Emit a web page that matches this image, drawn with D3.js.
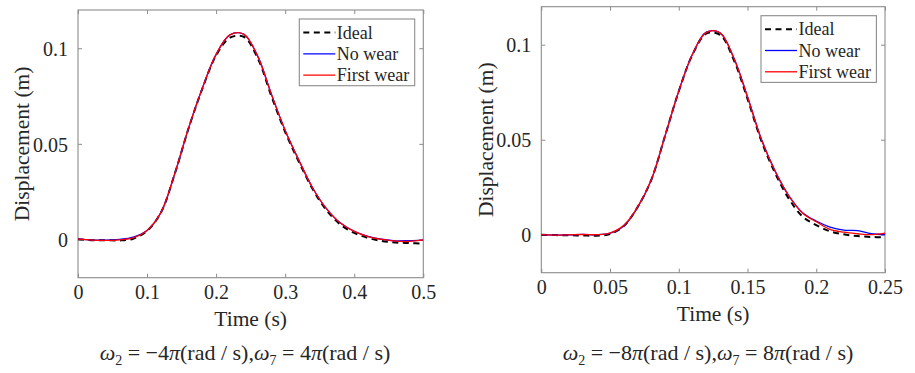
<!DOCTYPE html>
<html>
<head>
<meta charset="utf-8">
<script src="https://cdn.jsdelivr.net/npm/d3@7"></script>
<style>
  html, body { margin: 0; padding: 0; background: #fff; }
  svg { display: block; }
  text { font-family: "Liberation Serif", "Times New Roman", serif; fill: #262626; }
</style>
</head>
<body>
<svg id="fig" width="915" height="373"></svg>
<script>
// ---- Data: cam follower displacement (m) versus time (s) ----
const seriesNames = ["Ideal", "No wear", "First wear"];

// Case 1: omega2 = -4*pi rad/s, sampled every 0.02 s
const timeA = [0, 0.02, 0.04, 0.06, 0.08, 0.10, 0.12, 0.14, 0.16, 0.18, 0.20, 0.22, 0.24,
               0.26, 0.28, 0.30, 0.32, 0.34, 0.36, 0.38, 0.40, 0.42, 0.44, 0.46, 0.48, 0.50];
const idealA = [0.0001, -0.0004, -0.0004, -0.0005, 0.0004, 0.0045, 0.0140, 0.0342, 0.0580, 0.0788, 0.0962, 0.1055, 0.1060,
                0.0950, 0.0750, 0.0562, 0.0405, 0.0262, 0.0152, 0.0078, 0.0034, 0.0008, -0.0008, -0.0016, -0.0019, -0.0022];
const noWearA = [0.0002, -0.0003, -0.0004, 0.0000, 0.0012, 0.0047, 0.0140, 0.0342, 0.0581, 0.0791, 0.0968, 0.1070, 0.1073,
                 0.0960, 0.0760, 0.0570, 0.0413, 0.0268, 0.0160, 0.0086, 0.0043, 0.0016, 0.0001, -0.0007, -0.0006, -0.0003];
const firstWearA = [0.0002, -0.0003, -0.0005, -0.0002, 0.0008, 0.0047, 0.0140, 0.0343, 0.0582, 0.0790, 0.0968, 0.1070, 0.1074,
                    0.0960, 0.0760, 0.0570, 0.0413, 0.0268, 0.0160, 0.0086, 0.0042, 0.0015, 0.0000, -0.0009, -0.0010, -0.0002];

// Case 2: omega2 = -8*pi rad/s, sampled every 0.01 s
const timeB = [0, 0.01, 0.02, 0.03, 0.04, 0.05, 0.06, 0.07, 0.08, 0.09, 0.10, 0.11, 0.12,
               0.13, 0.14, 0.15, 0.16, 0.17, 0.18, 0.19, 0.20, 0.21, 0.22, 0.23, 0.24, 0.25];
const idealB = [0.0000, -0.0002, -0.0003, -0.0004, -0.0005, 0.0004, 0.0046, 0.0145, 0.0289, 0.0520, 0.0755, 0.0948, 0.1058,
                0.1052, 0.0920, 0.0715, 0.0495, 0.0325, 0.0190, 0.0096, 0.0050, 0.0018, 0.0002, -0.0007, -0.0012, -0.0014];
const noWearB = [0.0000, -0.0002, -0.0001, 0.0002, 0.0000, 0.0008, 0.0046, 0.0143, 0.0288, 0.0520, 0.0757, 0.0951, 0.1066,
                 0.1062, 0.0931, 0.0726, 0.0504, 0.0336, 0.0206, 0.0116, 0.0072, 0.0040, 0.0024, 0.0022, 0.0005, 0.0001];
const firstWearB = [0.0000, -0.0002, -0.0001, 0.0001, 0.0000, 0.0008, 0.0048, 0.0145, 0.0289, 0.0520, 0.0755, 0.0950, 0.1065,
                    0.1062, 0.0930, 0.0725, 0.0503, 0.0335, 0.0205, 0.0114, 0.0068, 0.0028, 0.0013, 0.0005, 0.0000, 0.0008];

// Axis ticks
const xTicksA = [0, 0.1, 0.2, 0.3, 0.4, 0.5];
const xTicksB = [0, 0.05, 0.1, 0.15, 0.2, 0.25];
const yTicks = [0, 0.05, 0.1];
const xDomainA = [0, 0.5];
const xDomainB = [0, 0.25];
const yDomain = [-0.02, 0.12];

// Caption speed values (multiples of pi)
const omega2 = [-4, -8];
const omega7 = [4, 8];

// ---- Styles ----
const seriesStyle = [
  { color: "#000000", width: 2, dash: "6,4.5" },
  { color: "#0000ff", width: 1.3, dash: null },
  { color: "#ff0000", width: 1.3, dash: null }
];
const boxColor = "#8c8c8c";

const panels = [
  { rect: { x0: 78, x1: 423.3, y0: 10, y1: 277.7 }, t: timeA,
    series: [idealA, noWearA, firstWearA], xDomain: xDomainA, xTicks: xTicksA,
    w2: omega2[0], w7: omega7[0], captionX: 245, ylabX: 22 },
  { rect: { x0: 541.3, x1: 885, y0: 6.7, y1: 272.7 }, t: timeB,
    series: [idealB, noWearB, firstWearB], xDomain: xDomainB, xTicks: xTicksB,
    w2: omega2[1], w7: omega7[1], captionX: 708, ylabX: 486 }
];

const svg = d3.select("#fig");
const fmt = v => (v === 0 ? "0" : String(+v.toFixed(3)));

panels.forEach((p, pi) => {
  const r = p.rect;
  const x = d3.scaleLinear().domain(p.xDomain).range([r.x0, r.x1]);
  const y = d3.scaleLinear().domain(yDomain).range([r.y1, r.y0]);
  const g = svg.append("g");

  // clip
  const clipId = "clip" + pi;
  svg.append("clipPath").attr("id", clipId).append("rect")
    .attr("x", r.x0).attr("y", r.y0).attr("width", r.x1 - r.x0).attr("height", r.y1 - r.y0);

  // axes with inward ticks on all four sides
  const tickLen = 4;
  const xb = g.append("g").attr("transform", `translate(0,${r.y1})`)
    .call(d3.axisBottom(x).tickValues(p.xTicks).tickSize(-tickLen).tickPadding(10).tickFormat(fmt));
  const xt = g.append("g").attr("transform", `translate(0,${r.y0})`)
    .call(d3.axisTop(x).tickValues(p.xTicks).tickSize(-tickLen).tickFormat(""));
  const yl = g.append("g").attr("transform", `translate(${r.x0},0)`)
    .call(d3.axisLeft(y).tickValues(yTicks).tickSize(-tickLen).tickPadding(10).tickFormat(fmt));
  const yr = g.append("g").attr("transform", `translate(${r.x1},0)`)
    .call(d3.axisRight(y).tickValues(yTicks).tickSize(-tickLen).tickFormat(""));
  [xb, xt, yl, yr].forEach(a => {
    a.select(".domain").remove();
    a.selectAll(".tick line").attr("stroke", boxColor).attr("stroke-width", 1);
    a.selectAll(".tick text").style("font-family", '"Liberation Serif", serif')
      .style("font-size", "20px").attr("fill", "#262626");
  });
  xb.selectAll(".tick text").attr("dy", "0.55em");
  yl.selectAll(".tick text").attr("dy", "0.36em");

  // axes box
  g.append("rect").attr("x", r.x0).attr("y", r.y0)
    .attr("width", r.x1 - r.x0).attr("height", r.y1 - r.y0)
    .attr("fill", "none").attr("stroke", boxColor).attr("stroke-width", 1.1);

  // curves
  const line = d3.line().x(d => x(d[0])).y(d => y(d[1])).curve(d3.curveCatmullRom.alpha(0.5));
  const lines = g.append("g").attr("clip-path", `url(#${clipId})`);
  p.series.forEach((vals, si) => {
    const st = seriesStyle[si];
    lines.append("path")
      .datum(p.t.map((tv, i) => [tv, vals[i]]))
      .attr("d", line)
      .attr("fill", "none")
      .attr("stroke", st.color)
      .attr("stroke-width", st.width)
      .attr("stroke-dasharray", st.dash);
  });

  // legend
  const lg = g.append("g").attr("transform", `translate(${r.x1 - 124},${r.y0 + 9})`);
  lg.append("rect").attr("x", 0).attr("y", 0).attr("width", 115.4).attr("height", 66.7)
    .attr("fill", "#fff").attr("stroke", boxColor).attr("stroke-width", 1.1);
  seriesNames.forEach((name, si) => {
    const st = seriesStyle[si];
    const yy = 13.5 + si * 21.3;
    lg.append("line").attr("x1", 4).attr("x2", 36).attr("y1", yy).attr("y2", yy)
      .attr("stroke", st.color).attr("stroke-width", st.width)
      .attr("stroke-dasharray", st.dash);
    lg.append("text").attr("x", 37.5).attr("y", yy).attr("dy", "0.35em")
      .style("font-size", "18px").text(name);
  });

  // axis labels
  g.append("text").attr("x", (r.x0 + r.x1) / 2).attr("y", r.y1 + 48.5)
    .attr("text-anchor", "middle").style("font-size", "21.5px").text("Time (s)");
  g.append("text")
    .attr("transform", `translate(${p.ylabX + 7},${(r.y0 + r.y1) / 2}) rotate(-90)`)
    .attr("text-anchor", "middle").style("font-size", "21.5px").text("Displacement (m)");

  // caption: omega2 = -n pi (rad / s), omega7 = n pi (rad / s)
  const cap = svg.append("text").attr("x", p.captionX).attr("y", 360)
    .attr("text-anchor", "middle").style("font-size", "22px");
  const neg = v => (v < 0 ? "\u2212" + Math.abs(v) : String(v));
  cap.append("tspan").style("font-style", "italic").text("\u03C9");
  cap.append("tspan").attr("dy", 5).style("font-size", "14px").text("2");
  cap.append("tspan").attr("dy", -5).text(" = " + neg(p.w2));
  cap.append("tspan").style("font-style", "italic").text("\u03C0");
  cap.append("tspan").text("(rad / s),");
  cap.append("tspan").style("font-style", "italic").text("\u03C9");
  cap.append("tspan").attr("dy", 5).style("font-size", "14px").text("7");
  cap.append("tspan").attr("dy", -5).text(" = " + neg(p.w7));
  cap.append("tspan").style("font-style", "italic").text("\u03C0");
  cap.append("tspan").text("(rad / s)");
});
</script>
</body>
</html>
